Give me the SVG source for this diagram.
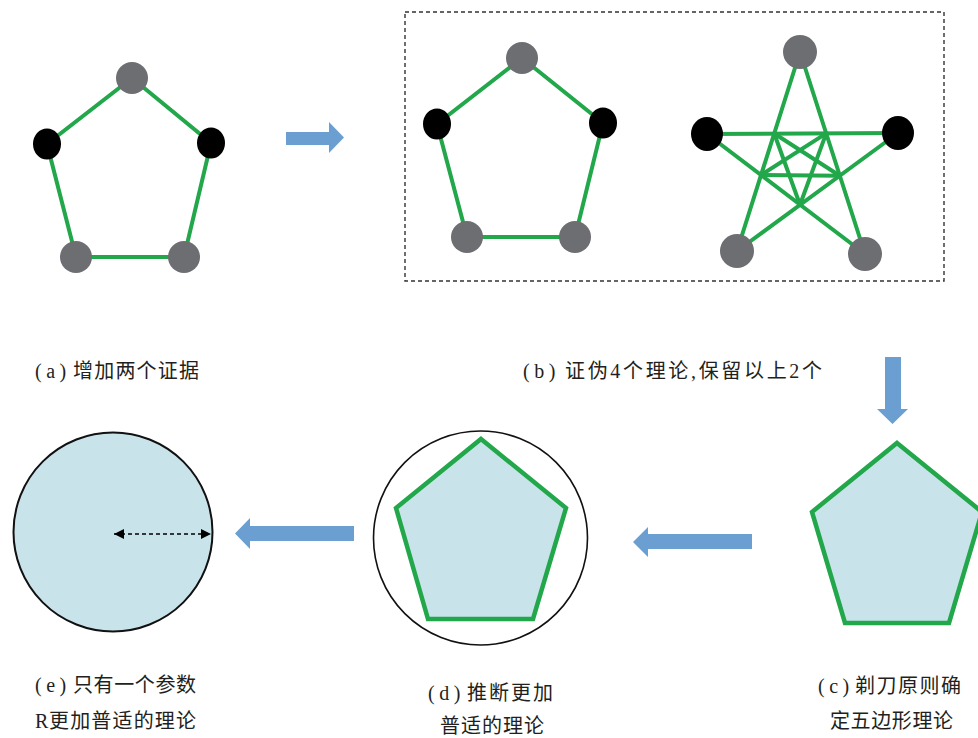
<svg xmlns="http://www.w3.org/2000/svg" width="978" height="738" viewBox="0 0 978 738">
  <style>
    .edge { stroke: #22a74b; stroke-width: 4; fill: none; stroke-linecap: round; }
    .gray { fill: #6d6e72; }
    .black { fill: #000; }
    .shape { fill: #c9e3ea; stroke: #22a74b; stroke-width: 4.5; stroke-linejoin: miter; }
    .ring { fill: #fff; stroke: #111; stroke-width: 1.6; }
    .disc { fill: #c9e3ea; stroke: #111; stroke-width: 2; }
    .flow { fill: #6b9fd1; }
    .box { fill: none; stroke: #333; stroke-width: 1.4; stroke-dasharray: 4 3; }
    .lbl { font-family: "Liberation Serif", "Noto Sans CJK SC", serif; font-size: 20px; fill: #231f20; }
    .cjk { font-family: "Noto Sans CJK SC", "Liberation Serif", serif; font-size: 20px; fill: #231f20; }
  </style>
  <defs>
    <marker id="tip" viewBox="0 0 10 10" refX="10" refY="5" markerWidth="10" markerHeight="10" markerUnits="userSpaceOnUse" orient="auto-start-reverse">
      <path d="M0,0 L10,5 L0,10 Z" fill="#000"/>
    </marker>
  </defs>

  <!-- (a) five-theory pentagon with two new evidence nodes -->
  <g id="panel-a">
    <polyline class="edge" points="132,78 211,143 184,257 76,257 47,144 132,78"/>
    <circle class="gray" cx="132" cy="78" r="16"/>
    <ellipse class="black" cx="47" cy="144" rx="14" ry="15.5"/>
    <ellipse class="black" cx="211" cy="143" rx="14" ry="15.5"/>
    <circle class="gray" cx="76" cy="257" r="16"/>
    <circle class="gray" cx="184" cy="257" r="16"/>
  </g>

  <!-- (b) falsification: pentagon and star, inside a dashed frame -->
  <g id="panel-b">
    <rect class="box" x="405" y="12" width="539" height="269"/>
    <g id="b-pentagon">
      <polyline class="edge" points="522,58 603,123 575,237 467,237 437,124 522,58"/>
      <circle class="gray" cx="522" cy="58" r="16"/>
      <ellipse class="black" cx="437" cy="124" rx="14" ry="15.5"/>
      <ellipse class="black" cx="603" cy="123" rx="14" ry="15.5"/>
      <circle class="gray" cx="467" cy="237" r="16"/>
      <circle class="gray" cx="575" cy="237" r="16"/>
    </g>
    <g id="b-star">
      <line class="edge" x1="800" y1="52" x2="737" y2="251"/>
      <line class="edge" x1="800" y1="52" x2="865" y2="254"/>
      <line class="edge" x1="707" y1="134" x2="898" y2="133"/>
      <line class="edge" x1="707" y1="134" x2="865" y2="254"/>
      <line class="edge" x1="898" y1="133" x2="737" y2="251"/>
      <!-- inner pentagram -->
      <line class="edge" x1="774.2" y1="133.5" x2="839.8" y2="175.7"/>
      <line class="edge" x1="774.2" y1="133.5" x2="800" y2="204.7"/>
      <line class="edge" x1="826.2" y1="133.4" x2="761" y2="175"/>
      <line class="edge" x1="826.2" y1="133.4" x2="800" y2="204.7"/>
      <line class="edge" x1="761" y1="175" x2="839.8" y2="175.7"/>
      <circle class="gray" cx="800" cy="52" r="17"/>
      <ellipse class="black" cx="707" cy="134" rx="16" ry="17"/>
      <ellipse class="black" cx="898" cy="133" rx="16" ry="17"/>
      <circle class="gray" cx="737" cy="251" r="17"/>
      <circle class="gray" cx="865" cy="254" r="17"/>
    </g>
  </g>

  <!-- (c) razor: plain pentagon -->
  <g id="panel-c">
    <polygon class="shape" points="897,443 982,512 949,623 845,623 812,512"/>
  </g>

  <!-- (d) pentagon inside a circle -->
  <g id="panel-d">
    <circle class="ring" cx="480.5" cy="538" r="107"/>
    <polygon class="shape" points="481,439 566,508 533,619 428,619 396,508"/>
  </g>

  <!-- (e) single-parameter circle with radius R -->
  <g id="panel-e">
    <circle class="disc" cx="113" cy="532" r="99.5"/>
    <line x1="114" y1="534" x2="211" y2="534" stroke="#000" stroke-width="1.6" stroke-dasharray="4 3" marker-start="url(#tip)" marker-end="url(#tip)"/>
  </g>

  <!-- block arrows between stages -->
  <g id="connectors">
    <polygon class="flow" points="286,132 329,132 329,122 344,137.5 329,153 329,145 286,145"/>
    <polygon class="flow" points="885,357 901,357 901,409 908,409 892.5,424 877,409 885,409"/>
    <polygon class="flow" points="752,534 648,534 648,527 633,542 648,557 648,549 752,549"/>
    <polygon class="flow" points="354,526 250,526 250,518 235,533.5 250,549 250,541 354,541"/>
  </g>

  <!-- captions -->
  <g id="caption-a">
    <text class="lbl" x="35" y="378" letter-spacing="4.5">(a)</text>
    <text class="cjk" x="73" y="378" textLength="126" lengthAdjust="spacing">增加两个证据</text>
  </g>
  <g id="caption-b">
    <text class="lbl" x="523" y="378" letter-spacing="4.5">(b)</text>
    <text class="lbl" x="565" y="378" textLength="257" lengthAdjust="spacing">证伪4个理论,保留以上2个</text>
  </g>
  <g id="caption-c">
    <text class="lbl" x="818" y="693" letter-spacing="4.5">(c)</text>
    <text class="cjk" x="855" y="693" textLength="106" lengthAdjust="spacing">剃刀原则确</text>
    <text class="cjk" x="830" y="728" textLength="123" lengthAdjust="spacing">定五边形理论</text>
  </g>
  <g id="caption-d">
    <text class="lbl" x="428" y="700" letter-spacing="4.5">(d)</text>
    <text class="cjk" x="467" y="700" textLength="86" lengthAdjust="spacing">推断更加</text>
    <text class="cjk" x="440" y="733" textLength="104" lengthAdjust="spacing">普适的理论</text>
  </g>
  <g id="caption-e">
    <text class="lbl" x="35" y="692" letter-spacing="4.5">(e)</text>
    <text class="cjk" x="73" y="692" textLength="123" lengthAdjust="spacing">只有一个参数</text>
    <text class="lbl" x="35" y="728">R</text>
    <text class="cjk" x="49" y="728" textLength="147" lengthAdjust="spacing">更加普适的理论</text>
  </g>
</svg>
